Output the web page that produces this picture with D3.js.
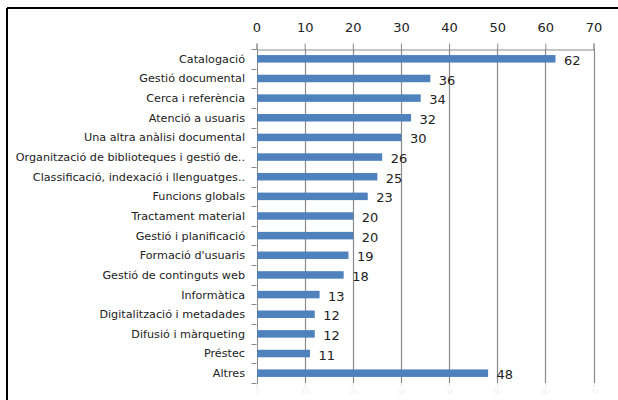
<!DOCTYPE html>
<html>
<head>
<meta charset="utf-8">
<script src="https://cdn.jsdelivr.net/npm/d3@7"></script>
<style>
  html, body { margin: 0; padding: 0; background: #fff; }
  svg { display: block; }
</style>
</head>
<body>
<div id="chart"></div>
<script>
// categories, top to bottom
var categories = [
  "Catalogació",
  "Gestió documental",
  "Cerca i referència",
  "Atenció a usuaris",
  "Una altra anàlisi documental",
  "Organització de biblioteques i gestió de..",
  "Classificació, indexació i llenguatges..",
  "Funcions globals",
  "Tractament material",
  "Gestió i planificació",
  "Formació d'usuaris",
  "Gestió de continguts web",
  "Informàtica",
  "Digitalització i metadades",
  "Difusió i màrqueting",
  "Préstec",
  "Altres"
];
var values = [62, 36, 34, 32, 30, 26, 25, 23, 20, 20, 19, 18, 13, 12, 12, 11, 48];
var xTicks = [0, 10, 20, 30, 40, 50, 60, 70];

// plot box (note: "top" is taken by window.top, so use a margin object)
var W = 618, H = 400;
var plot = {left: 256.5, right: 593.5, top: 49, bottom: 383};

var svg = d3.select("#chart").append("svg")
    .attr("width", W)
    .attr("height", H);

// frame (left + top edges only, the rest is cropped)
svg.append("line").attr("x1", 7).attr("x2", 7).attr("y1", 8).attr("y2", H)
    .attr("stroke", "#000").attr("stroke-width", 2);
svg.append("line").attr("x1", 7).attr("x2", W).attr("y1", 8).attr("y2", 8)
    .attr("stroke", "#000").attr("stroke-width", 2);

var x = d3.scaleLinear().domain([0, 70]).range([plot.left, plot.right]);
var y = d3.scaleBand().domain(categories).range([plot.top, plot.bottom]);

// vertical gridlines
svg.append("g").selectAll("line")
    .data(xTicks.slice(1))
    .enter().append("line")
    .attr("x1", function(d) { return Math.round(x(d)) + 0.5; })
    .attr("x2", function(d) { return Math.round(x(d)) + 0.5; })
    .attr("y1", plot.top).attr("y2", plot.bottom)
    .attr("stroke", "#8a8a8a").attr("stroke-width", 1.2);

// top axis
var topAxis = svg.append("g")
    .attr("transform", "translate(0," + (plot.top + 0.5) + ")")
    .call(d3.axisTop(x).tickValues(xTicks).tickSize(6).tickPadding(12));
topAxis.select(".domain").attr("stroke", "#8a8a8a");
topAxis.selectAll(".tick line").attr("stroke", "#8a8a8a");
topAxis.selectAll("text")
    .attr("fill", "#222")
    .style("font-family", "DejaVu Sans, Verdana, sans-serif")
    .style("font-size", "13px");

// faint bottom axis (washed out in the reference)
var botAxis = svg.append("g")
    .attr("transform", "translate(0," + (plot.bottom + 0.5) + ")")
    .call(d3.axisBottom(x).tickValues(xTicks).tickSize(4).tickPadding(2));
botAxis.select(".domain").remove();
botAxis.selectAll(".tick line").attr("stroke", "#e4e4e4");
botAxis.selectAll("text")
    .attr("fill", "#f0f0f0")
    .style("font-size", "7px");

// left axis with ticks at band boundaries
svg.append("line")
    .attr("x1", Math.round(plot.left) + 0.5).attr("x2", Math.round(plot.left) + 0.5)
    .attr("y1", plot.top).attr("y2", plot.bottom + 1)
    .attr("stroke", "#8a8a8a");
var bounds = d3.range(categories.length + 1).map(function(i) { return plot.top + i * y.step(); });
svg.append("g").selectAll("line")
    .data(bounds)
    .enter().append("line")
    .attr("x1", plot.left - 5).attr("x2", plot.left)
    .attr("y1", function(d) { return Math.round(d) + 0.5; })
    .attr("y2", function(d) { return Math.round(d) + 0.5; })
    .attr("stroke", "#8a8a8a");

// category labels
svg.append("g").selectAll("text")
    .data(categories)
    .enter().append("text")
    .attr("x", 245)
    .attr("y", function(d) { return y(d) + y.bandwidth() / 2; })
    .attr("dy", "0.35em")
    .attr("text-anchor", "end")
    .attr("fill", "#222")
    .style("font-family", "DejaVu Sans, Verdana, sans-serif")
    .style("font-size", "11.2px")
    .text(function(d) { return d; });

// bars
var barH = 7.5;
svg.append("g").selectAll("rect")
    .data(values)
    .enter().append("rect")
    .attr("x", x(0) + 0.5)
    .attr("y", function(d, i) { return y(categories[i]) + y.bandwidth() / 2 - barH / 2; })
    .attr("width", function(d) { return x(d) - x(0); })
    .attr("height", barH)
    .attr("fill", "#4f81bd");

// value labels
svg.append("g").selectAll("text")
    .data(values)
    .enter().append("text")
    .attr("x", function(d) { return x(d) + 9; })
    .attr("y", function(d, i) { return y(categories[i]) + y.bandwidth() / 2 + 1.5; })
    .attr("dy", "0.35em")
    .attr("fill", "#222")
    .style("font-family", "DejaVu Sans, Verdana, sans-serif")
    .style("font-size", "13px")
    .text(function(d) { return d; });
</script>
</body>
</html>
